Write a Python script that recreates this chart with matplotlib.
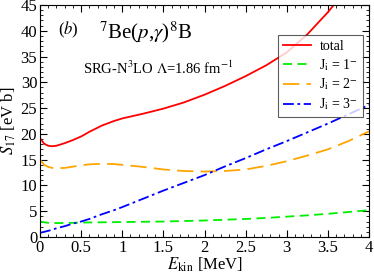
import matplotlib
matplotlib.use("Agg")
import matplotlib.pyplot as plt
import numpy as np
from matplotlib.ticker import MultipleLocator

plt.rcParams['font.family'] = ['Liberation Serif', 'DejaVu Serif']
plt.rcParams['mathtext.fontset'] = 'stix'

# values
e_kin = [0.0, 0.05, 0.1, 0.15, 0.2, 0.3, 0.4, 0.5, 0.6, 0.75, 0.9, 1.0, 1.25, 1.5, 1.75, 2.0, 2.25, 2.5, 2.75, 3.0, 3.25, 3.5, 3.75, 4.0]
s_total = [19.2, 18.1, 17.7, 17.6, 17.7, 18.2, 18.8, 19.5, 20.4, 21.6, 22.5, 23.0, 23.9, 24.9, 26.1, 27.6, 29.3, 31.2, 33.3, 35.8, 39.3, 43.6, 48.5, 53.5]
s_j1 = [3.0, 2.85, 2.75, 2.7, 2.7, 2.72, 2.75, 2.8, 2.82, 2.85, 2.88, 2.9, 2.95, 3.0, 3.1, 3.2, 3.35, 3.5, 3.7, 3.95, 4.2, 4.5, 4.85, 5.2]
s_j2 = [15.0, 14.0, 13.6, 13.4, 13.35, 13.4, 13.65, 13.9, 14.1, 14.2, 14.15, 14.0, 13.6, 13.1, 12.8, 12.7, 12.8, 13.1, 13.8, 14.7, 15.8, 17.0, 18.6, 20.5]
s_j3 = [0.8, 1.0, 1.2, 1.4, 1.7, 2.1, 2.6, 3.0, 3.5, 4.4, 5.2, 5.8, 7.4, 9.0, 10.5, 12.0, 13.7, 15.3, 17.0, 18.6, 20.3, 22.0, 23.8, 25.6]
x_ticks = ['0', '0.5', '1', '1.5', '2', '2.5', '3', '3.5', '4']

fig = plt.figure(figsize=(3.74, 2.73), dpi=100)
ax = fig.add_axes([40/374, 36/273, 329/374, 232/273])

ax.plot(e_kin, s_total, color='red', lw=1.3, label='total')
ax.plot(e_kin, s_j1, color='#00ee00', lw=1.3, dashes=(5, 3), label=r'J$_{\rm i}$ = 1$^{-}$')
ax.plot(e_kin, s_j2, color='orange', lw=1.3, dashes=(9, 4), label=r'J$_{\rm i}$ = 2$^{-}$')
ax.plot(e_kin, s_j3, color='blue', lw=1.3, dashes=(6, 2, 1.5, 2), label=r'J$_{\rm i}$ = 3$^{-}$')

ax.set_xlim(0, 4)
ax.set_ylim(0, 45)
ax.set_xticks(np.arange(0, 4.01, 0.5))
ax.set_xticklabels(x_ticks)
ax.xaxis.set_minor_locator(MultipleLocator(0.1))
ax.yaxis.set_major_locator(MultipleLocator(5))
ax.yaxis.set_minor_locator(MultipleLocator(1))
ax.tick_params(which='both', direction='in', top=True, right=True, labelsize=12, pad=2)
ax.tick_params(which='major', length=5)
ax.tick_params(which='minor', length=2.5)

ax.set_xlabel(r'$E_{\rm kin}$ [MeV]', fontsize=12, labelpad=0)
ax.set_ylabel(r'$S_{17}$ [eV b]', fontsize=12, labelpad=2)

ax.text(0.22, 39.3, r'($b$)', fontsize=12)
ax.text(0.72, 38.6, r'$^{7}$Be($p$,$\gamma$)$^{8}$B', fontsize=15)
ax.text(0.52, 31.6, r'SRG-N$^{3}$LO $\Lambda$=1.86 fm$^{-1}$', fontsize=10.5)

leg = ax.legend(loc='upper right', bbox_to_anchor=(0.982, 0.872), borderaxespad=0,
                fontsize=10, frameon=True, fancybox=False, edgecolor='#333333',
                handlelength=2.0, labelspacing=0.3, borderpad=0.35, handletextpad=0.6)
leg.get_frame().set_linewidth(0.8)

fig.savefig('out.png', dpi=100)
